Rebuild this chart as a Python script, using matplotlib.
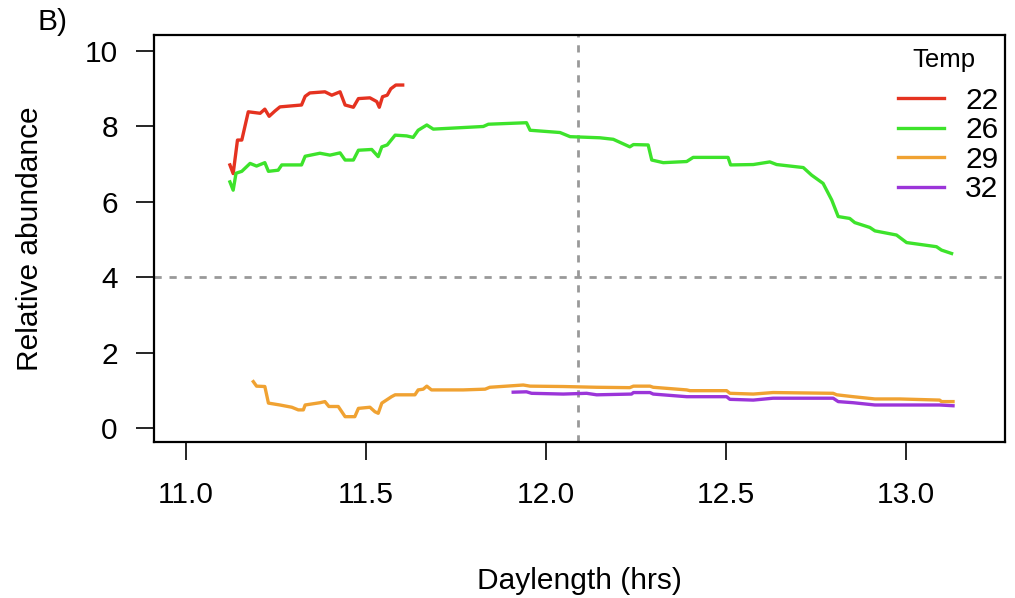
import matplotlib
matplotlib.use("Agg")
from matplotlib import pyplot as plt

plt.rcParams['font.family'] = ['Liberation Sans', 'DejaVu Sans']

# Temp 22
x22 = [11.122, 11.131, 11.143, 11.155, 11.173, 11.206, 11.219, 11.231, 11.247, 11.261,
       11.321, 11.331, 11.344, 11.386, 11.405, 11.428, 11.442, 11.465, 11.479, 11.511,
       11.530, 11.537, 11.546, 11.559, 11.569, 11.583, 11.602]
y22 = [6.98, 6.75, 7.64, 7.64, 8.39, 8.35, 8.46, 8.27, 8.41, 8.52,
       8.57, 8.80, 8.89, 8.92, 8.83, 8.92, 8.57, 8.51, 8.74, 8.76,
       8.66, 8.51, 8.79, 8.83, 9.00, 9.10, 9.10]

# Temp 26
x26 = [11.122, 11.131, 11.139, 11.155, 11.178, 11.196, 11.219, 11.229, 11.256, 11.266,
       11.321, 11.331, 11.372, 11.400, 11.428, 11.442, 11.465, 11.479, 11.516, 11.534,
       11.544, 11.559, 11.581, 11.613, 11.631, 11.645, 11.669, 11.687, 11.826, 11.840,
       11.946, 11.956, 12.039, 12.067, 12.150, 12.187, 12.233, 12.243, 12.284, 12.294,
       12.326, 12.391, 12.409, 12.506, 12.513, 12.576, 12.622, 12.641, 12.715, 12.738,
       12.770, 12.794, 12.812, 12.844, 12.858, 12.900, 12.914, 12.974, 13.002, 13.085,
       13.099, 13.127]
y26 = [6.53, 6.31, 6.76, 6.81, 7.02, 6.95, 7.04, 6.81, 6.84, 6.98,
       6.98, 7.21, 7.29, 7.24, 7.30, 7.11, 7.11, 7.37, 7.39, 7.20,
       7.46, 7.51, 7.77, 7.75, 7.71, 7.90, 8.04, 7.93, 8.00, 8.06,
       8.10, 7.90, 7.84, 7.73, 7.70, 7.66, 7.46, 7.52, 7.51, 7.11,
       7.04, 7.07, 7.18, 7.18, 6.98, 6.99, 7.06, 6.99, 6.91, 6.71,
       6.49, 6.05, 5.61, 5.56, 5.45, 5.32, 5.23, 5.12, 4.92, 4.81,
       4.72, 4.63]

# Temp 29
x29 = [11.187, 11.196, 11.219, 11.229, 11.261, 11.294, 11.312, 11.326, 11.331, 11.372,
       11.386, 11.397, 11.423, 11.442, 11.469, 11.479, 11.511, 11.525, 11.534, 11.544,
       11.571, 11.581, 11.636, 11.645, 11.659, 11.669, 11.682, 11.770, 11.831, 11.844,
       11.937, 11.956, 12.048, 12.141, 12.233, 12.243, 12.289, 12.298, 12.391, 12.400,
       12.502, 12.511, 12.576, 12.631, 12.798, 12.808, 12.854, 12.914, 12.983, 13.094,
       13.099, 13.131]
y29 = [1.23, 1.11, 1.10, 0.66, 0.61, 0.55, 0.48, 0.48, 0.61, 0.67,
       0.70, 0.57, 0.57, 0.30, 0.30, 0.52, 0.55, 0.43, 0.39, 0.66,
       0.83, 0.88, 0.88, 1.01, 1.03, 1.11, 1.01, 1.01, 1.03, 1.08,
       1.14, 1.11, 1.10, 1.08, 1.07, 1.11, 1.11, 1.08, 1.01, 0.99,
       0.99, 0.92, 0.90, 0.94, 0.92, 0.88, 0.83, 0.77, 0.77, 0.74,
       0.70, 0.70]

# Temp 32
x32 = [11.909, 11.946, 11.960, 12.048, 12.113, 12.141, 12.238, 12.243, 12.289, 12.298,
       12.391, 12.502, 12.511, 12.576, 12.631, 12.798, 12.812, 12.854, 12.914, 13.094,
       13.131]
y32 = [0.95, 0.96, 0.92, 0.90, 0.92, 0.88, 0.90, 0.94, 0.94, 0.90,
       0.83, 0.83, 0.76, 0.74, 0.79, 0.79, 0.70, 0.67, 0.61, 0.61,
       0.59]

xticks = [11.0, 11.5, 12.0, 12.5, 13.0]
yticks = [0, 2, 4, 6, 8, 10]

fig = plt.figure(figsize=(10.15, 5.98), dpi=100)
ax = fig.add_axes([0.1517, 0.261, 0.8383, 0.680])

ax.axhline(4, color="#999999", lw=2, ls=(0, (2.6, 2.8)), zorder=1)
ax.axvline(12.089, color="#999999", lw=2, ls=(0, (2.6, 2.8)), zorder=1)

lw = 2.4
ax.plot(x22, y22, color="#e53220", lw=lw, label="22")
ax.plot(x26, y26, color="#3de32b", lw=lw, label="26")
ax.plot(x29, y29, color="#f0a232", lw=lw, label="29")
ax.plot(x32, y32, color="#9b35d9", lw=lw, label="32")

ax.set_xlim(10.911, 13.275)
ax.set_ylim(-0.37, 10.42)
ax.set_xticks(xticks)
ax.set_xticklabels(["11.0", "11.5", "12.0", "12.5", "13.0"])
ax.set_yticks(yticks)

for s in ax.spines.values():
    s.set_linewidth(1.6)
ax.tick_params(axis="both", which="major", labelsize=21.5, length=13, width=1.2)
ax.tick_params(axis="x", pad=15)
ax.tick_params(axis="y", pad=13)

ax.set_xlabel("Daylength (hrs)", fontsize=21.5, labelpad=42)
ax.set_ylabel("Relative abundance", fontsize=21.5, labelpad=29)

leg = ax.legend(frameon=False, loc="upper right",
                bbox_to_anchor=(1.024, 0.940), fontsize=21.5,
                handlelength=1.55, labelspacing=0.05, handletextpad=0.7)
fig.text(0.930, 0.900, "Temp", fontsize=18.5, ha="center", va="center")

fig.text(0.037, 0.963, "B)", fontsize=21.5, va="center")

fig.savefig("out.png", dpi=100)
